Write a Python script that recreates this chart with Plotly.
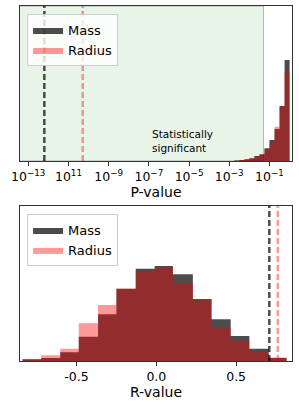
import numpy as np
import plotly.graph_objects as go

# ---------------- data ----------------
# top panel: log10 bin edges of P-value histogram
p_log_edges = [-2.75, -2.5, -2.25, -2.0, -1.75, -1.5, -1.25, -1.0, -0.75, -0.5, -0.25, 0.0]
p_mass = [0.4, 1.0, 1.7, 2.7, 5.0, 6.7, 12.7, 21.0, 32.0, 55.0, 101.0]
p_radius = [0.4, 1.0, 1.7, 2.7, 4.5, 6.7, 11.7, 19.3, 34.3, 54.5, 88.7]
p_mass_obs = 10 ** -12.2
p_radius_obs = 10 ** -10.29
p_signif = 0.05
p_tick_vals = [1e-13, 1e-11, 1e-9, 1e-7, 1e-5, 1e-3, 1e-1]
p_tick_text = ["10<sup>−13</sup>", "10<sup>11</sup>", "10<sup>−9</sup>", "10<sup>−7</sup>",
               "10<sup>−5</sup>", "10<sup>−3</sup>", "10<sup>−1</sup>"]

# bottom panel: R-value histogram
r_edges = [-0.838, -0.721, -0.602, -0.486, -0.365, -0.25, -0.129, -0.01, 0.104,
           0.229, 0.346, 0.466, 0.583, 0.704, 0.816]
r_mass = [1.7, 3.0, 8.7, 24.3, 46.7, 72.3, 92.3, 95.0, 86.7, 62.0, 41.7, 25.0, 12.3, 3.0]
r_radius = [1.7, 5.7, 12.3, 37.7, 56.0, 72.3, 90.0, 94.0, 77.7, 62.0, 33.3, 20.0, 9.3, 3.5]
r_mass_obs = 0.708
r_radius_obs = 0.761
r_tick_vals = [-0.5, 0.0, 0.5]
r_tick_text = ["-0.5", "0.0", "0.5"]

YMAX = 155
MASS_C = "rgba(0,0,0,0.7)"
RAD_C = "rgba(255,0,0,0.4)"
FONT = "DejaVu Sans"


def step(edges, counts):
    return list(edges), list(counts) + [counts[-1]]


fig = go.Figure()

# significance region (top)
fig.add_trace(go.Scatter(
    x=[10 ** -13.6, p_signif, p_signif, 10 ** -13.6, 10 ** -13.6],
    y=[0, 0, YMAX, YMAX, 0], fill="toself", fillcolor="rgba(0,128,0,0.085)",
    line=dict(color="rgba(120,140,120,0.6)", width=1), mode="lines",
    showlegend=False, hoverinfo="skip", xaxis="x", yaxis="y"))

pe = [10 ** v for v in p_log_edges]
for cnt, col, name in [(p_mass, MASS_C, "Mass"), (p_radius, RAD_C, "Radius")]:
    xs, ys = step(pe, cnt)
    fig.add_trace(go.Scatter(x=xs, y=ys, mode="lines", line=dict(shape="hv", width=0, color=col),
                             fill="tozeroy", fillcolor=col, name=name, legend="legend",
                             xaxis="x", yaxis="y"))

for xv, col in [(p_mass_obs, MASS_C), (p_radius_obs, RAD_C)]:
    fig.add_trace(go.Scatter(x=[xv, xv], y=[0, YMAX], mode="lines",
                             line=dict(color=col, width=2.5, dash="6px,3px"),
                             showlegend=False, xaxis="x", yaxis="y"))

for cnt, col, name in [(r_mass, MASS_C, "Mass"), (r_radius, RAD_C, "Radius")]:
    xs, ys = step(r_edges, cnt)
    fig.add_trace(go.Scatter(x=xs, y=ys, mode="lines", line=dict(shape="hv", width=0, color=col),
                             fill="tozeroy", fillcolor=col, name=name, legend="legend2",
                             xaxis="x2", yaxis="y2"))

for xv, col in [(r_mass_obs, MASS_C), (r_radius_obs, RAD_C)]:
    fig.add_trace(go.Scatter(x=[xv, xv], y=[0, YMAX], mode="lines",
                             line=dict(color=col, width=2.5, dash="6px,3px"),
                             showlegend=False, xaxis="x2", yaxis="y2"))

axcommon = dict(showline=True, mirror=True, linecolor="#333", linewidth=1, showgrid=False,
                zeroline=False, ticks="outside", ticklen=4, tickcolor="#333",
                tickfont=dict(family=FONT, size=12.5, color="black"))

legcommon = dict(bgcolor="rgba(255,255,255,0.8)", bordercolor="#cccccc", borderwidth=1,
                 font=dict(family=FONT, size=13, color="black"), xanchor="left", yanchor="top",
                 tracegroupgap=2, itemwidth=30)

fig.update_layout(
    width=299, height=407, plot_bgcolor="white", paper_bgcolor="white",
    margin=dict(l=20, r=7, t=6, b=46),
    font=dict(family=FONT),
    xaxis=dict(type="log", range=[-13.41, 0.12], tickvals=p_tick_vals, ticktext=p_tick_text,
               domain=[0, 1], anchor="y",
               title=dict(text="P-value", font=dict(family=FONT, size=14, color="black"), standoff=4),
               **axcommon),
    yaxis=dict(range=[0, YMAX], domain=[0.5634, 1], anchor="x", showticklabels=False,
               showline=True, mirror=True, linecolor="#333", showgrid=False, zeroline=False, ticks=""),
    xaxis2=dict(range=[-0.854, 0.85], tickvals=r_tick_vals, ticktext=r_tick_text,
                domain=[0, 1], anchor="y2",
                title=dict(text="R-value", font=dict(family=FONT, size=14, color="black"), standoff=4),
                **axcommon),
    yaxis2=dict(range=[0, YMAX], domain=[0, 0.4366], anchor="x2", showticklabels=False,
                showline=True, mirror=True, linecolor="#333", showgrid=False, zeroline=False, ticks=""),
    legend=dict(x=0.026, y=0.977, **legcommon),
    legend2=dict(x=0.026, y=0.414, **legcommon),
    annotations=[dict(text="Statistically<br>significant", xref="x domain", yref="y domain",
                      x=0.478, y=0.03, xanchor="left", yanchor="bottom", align="left",
                      showarrow=False, font=dict(family=FONT, size=10.5, color="black"))],
)

fig.write_html("out.html", config={"displayModeBar": False},
               post_script="document.body.style.margin='0';document.body.style.overflow='hidden';")
